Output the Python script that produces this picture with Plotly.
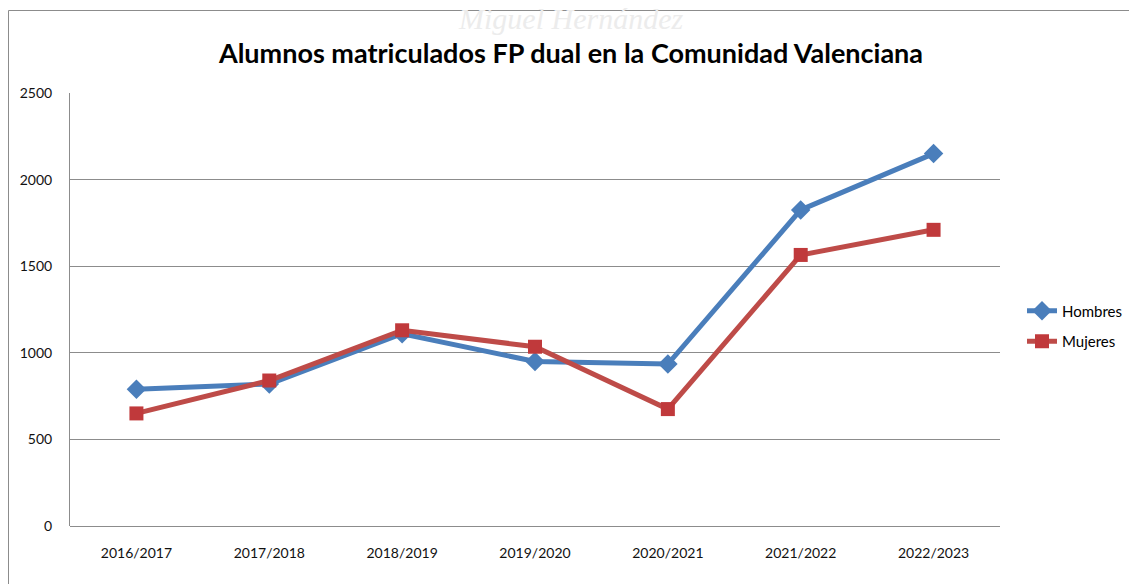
import plotly.graph_objects as go

categories = ["2016/2017", "2017/2018", "2018/2019", "2019/2020", "2020/2021", "2021/2022", "2022/2023"]
hombres = [790, 820, 1110, 950, 935, 1825, 2150]
mujeres = [650, 840, 1130, 1035, 675, 1565, 1710]
yticks = [0, 500, 1000, 1500, 2000, 2500]

W, H = 1129, 584
L, R, T, B = 70, 129, 93, 58
pw, ph = W - L - R, H - T - B

def px_x(x):
    return (x - L) / pw

def px_y(y):
    return (H - B - y) / ph

fig = go.Figure()
fig.add_trace(go.Scatter(
    x=categories, y=hombres, name="Hombres", mode="lines+markers",
    legendgroup="h",
    line=dict(color="#4a7ebb", width=5),
    marker=dict(symbol="diamond", size=15, color="#4a7ebb"),
))
fig.add_trace(go.Scatter(
    x=categories, y=mujeres, name="Mujeres", mode="lines+markers",
    legendgroup="m",
    line=dict(color="#be4b48", width=5),
    marker=dict(symbol="square", size=14, color="#c0393b"),
))

font = "Lato, 'Open Sans', sans-serif"

fig.update_layout(
    width=W, height=H,
    margin=dict(l=L, r=R, t=T, b=B, autoexpand=False),
    paper_bgcolor="white", plot_bgcolor="white",
    font=dict(family=font, size=14, color="#111111"),
    title=dict(text="<b>Alumnos matriculados FP dual en la Comunidad Valenciana</b>",
               x=571 / W, xanchor="center", y=1 - 54 / H, yanchor="middle",
               font=dict(family=font, size=27, color="black")),
    showlegend=True,
    legend=dict(x=px_x(1022), xanchor="left", y=px_y(326), yanchor="middle",
                font=dict(family=font, size=15, color="black"),
                bgcolor="rgba(0,0,0,0)", itemwidth=30, tracegroupgap=8),
    xaxis=dict(type="category", range=[-0.5, 6.5], showgrid=False,
               showline=False, ticks="", tickfont=dict(size=14),
               ticklabelstandoff=17, fixedrange=True),
    yaxis=dict(range=[0, 2500], tickvals=yticks, showgrid=True,
               gridcolor="#8c8c8c", gridwidth=1, zeroline=True,
               zerolinecolor="#8c8c8c", zerolinewidth=1,
               showline=True, linecolor="#8c8c8c", linewidth=1,
               ticks="", tickfont=dict(size=14), ticklabelstandoff=14),
    shapes=[
        dict(type="line", xref="paper", yref="paper",
             x0=px_x(8.5), x1=px_x(8.5), y0=px_y(600), y1=px_y(10.5),
             line=dict(color="#8c8c8c", width=1)),
        dict(type="line", xref="paper", yref="paper",
             x0=px_x(8.5), x1=px_x(1140), y0=px_y(10.5), y1=px_y(10.5),
             line=dict(color="#8c8c8c", width=1)),
    ],
    annotations=[
        dict(text="<i>Miguel Hernández</i>", xref="paper", yref="paper",
             x=px_x(570), y=px_y(19), xanchor="center", yanchor="middle",
             showarrow=False,
             font=dict(family="'Liberation Serif', serif", size=30, color="#ececec")),
    ],
)

fig.write_html("out.html")
